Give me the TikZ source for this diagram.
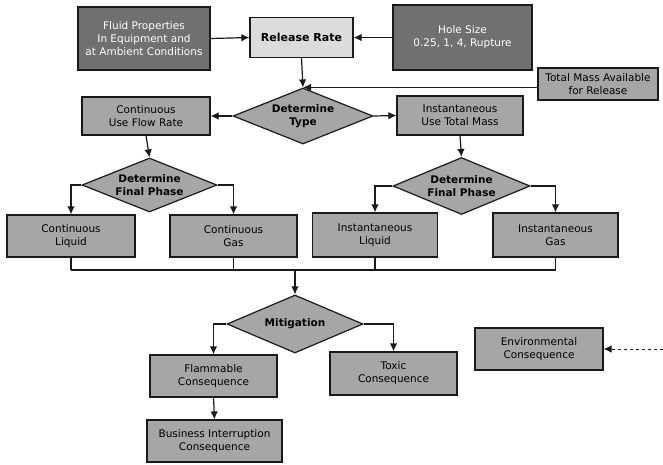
\documentclass[tikz,border=0pt]{standalone}
\usepackage{fontspec}
\setmainfont{DejaVu Sans}
\usetikzlibrary{shapes.geometric,arrows.meta}
\definecolor{darkfill}{HTML}{707070}
\definecolor{midfill}{HTML}{A6A6A6}
\definecolor{lightfill}{HTML}{DCDCDC}
\definecolor{linecol}{HTML}{1A1A1A}
\tikzset{
  x=1pt, y=-1pt,
  box/.style={draw=linecol, line width=1.2pt, fill=midfill, align=center, inner sep=1pt,
    font=\fontsize{10.5}{13}\selectfont, text=black},
  darkbox/.style={box, fill=darkfill, text=white},
  lightbox/.style={box, fill=lightfill, font=\fontsize{11}{13}\selectfont\bfseries},
  decision/.style={diamond, aspect=2.4, draw=linecol, line width=1.2pt, fill=midfill, align=center,
    inner sep=0pt, font=\fontsize{10.5}{12.5}\selectfont\bfseries},
  conn/.style={draw=linecol, line width=1.2pt},
  arr/.style={conn, -{Latex[length=8pt,width=7.5pt]}},
}
\begin{document}
\begin{tikzpicture}
\useasboundingbox (0,0) rectangle (663,464);
% nodes
\node[darkbox, minimum width=132pt, minimum height=63pt] (fluid) at (144,38.5) {Fluid Properties\\In Equipment and\\at Ambient Conditions};
\node[lightbox, minimum width=103pt, minimum height=40pt] (release) at (301.5,37.5) {Release Rate};
\node[darkbox, minimum width=139pt, minimum height=65pt] (hole) at (462.5,37.5) {Hole Size\\0.25, 1, 4, Rupture};
\node[box, minimum width=120pt, minimum height=32pt] (total) at (598,84) {Total Mass Available\\for Release};
\node[decision, minimum width=140pt, minimum height=56pt] (dtype) at (303,116) {Determine\\Type};
\node[box, minimum width=128pt, minimum height=38pt] (cufr) at (146,116) {Continuous\\Use Flow Rate};
\node[box, minimum width=126pt, minimum height=39pt] (itm) at (460,115.5) {Instantaneous\\Use Total Mass};
\node[decision, minimum width=135pt, minimum height=54pt] (dfpl) at (149.5,185) {Determine\\Final Phase};
\node[decision, minimum width=137pt, minimum height=57pt] (dfpr) at (461.5,186) {Determine\\Final Phase};
\node[box, minimum width=128pt, minimum height=42pt] (cl) at (71,236) {Continuous\\Liquid};
\node[box, minimum width=127pt, minimum height=42pt] (cg) at (233.5,236) {Continuous\\Gas};
\node[box, minimum width=125pt, minimum height=44pt] (il) at (375,235) {Instantaneous\\Liquid};
\node[box, minimum width=125pt, minimum height=44pt] (ig) at (555.5,235) {Instantaneous\\Gas};
\node[decision, minimum width=136pt, minimum height=58pt] (mit) at (295,324) {Mitigation};
\node[box, minimum width=127pt, minimum height=42pt] (flam) at (213.5,376) {Flammable\\Consequence};
\node[box, minimum width=127pt, minimum height=43pt] (tox) at (393.5,373.5) {Toxic\\Consequence};
\node[box, minimum width=135pt, minimum height=42pt] (bi) at (214.5,441) {Business Interruption\\Consequence};
\node[box, minimum width=128pt, minimum height=42pt] (env) at (539,349) {Environmental\\Consequence};
\coordinate (bus) at (0,270);
\coordinate (envsrc) at (663,349);
% connectors
\draw[arr] (fluid.east) -- (release.west);
\draw[arr] (hole.west) -- (release.east);
\draw[arr] (release.south) -- (dtype.north);
\draw[arr] (total.west |- dtype.north) -- (dtype.north);
\draw[arr] (dtype.west) -- (cufr.east);
\draw[arr] (dtype.east) -- (itm.west);
\draw[arr] (cufr.south) -- (dfpl.north);
\draw[arr] (itm.south) -- (dfpr.north);
\draw[arr] (dfpl.west) -| (cl.north);
\draw[arr] (dfpl.east) -| (cg.north);
\draw[arr] (dfpr.west) -| (il.north);
\draw[arr] (dfpr.east) -| (ig.north);
\draw[conn] (cl.south) -- (cl.south |- bus);
\draw[conn] (cg.south) -- (cg.south |- bus);
\draw[conn] (il.south) -- (il.south |- bus);
\draw[conn] (ig.south) -- (ig.south |- bus);
\draw[conn] (cl.south |- bus) -- (ig.south |- bus);
\draw[arr] (mit.north |- bus) -- (mit.north);
\draw[arr] (mit.west) -| (flam.north);
\draw[arr] (mit.east) -| (tox.north);
\draw[arr] (flam.south) -- (bi.north);
\draw[arr, dashed, line width=0.9pt] (envsrc) -- (env.east);
\end{tikzpicture}
\end{document}
